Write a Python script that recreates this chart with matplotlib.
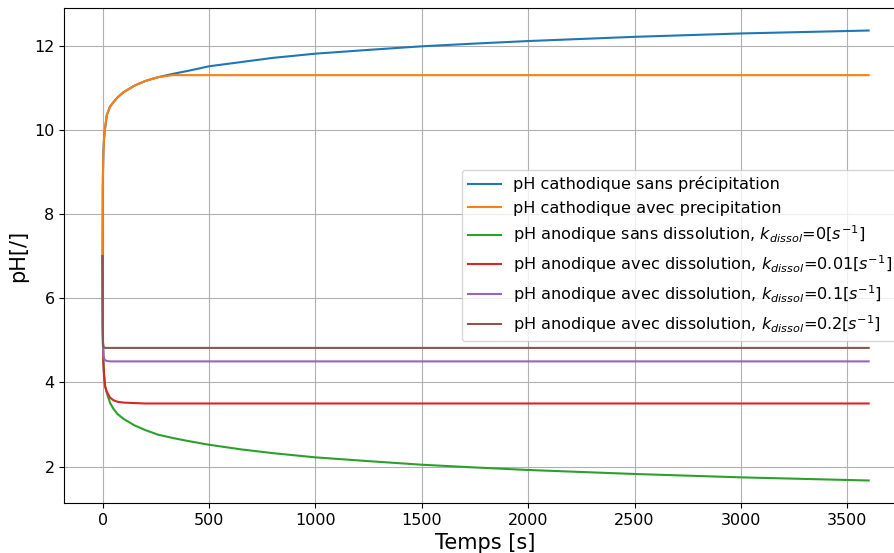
import matplotlib
matplotlib.use("Agg")
import matplotlib.pyplot as plt

# temps [s]
t = [0, 1, 2, 4, 7, 12, 20, 35, 50, 70, 100, 150, 200, 260, 330, 400, 500,
     650, 800, 1000, 1250, 1500, 1750, 2000, 2500, 3000, 3600]

# pH cathodique
ph_cath_sans = [7.0, 8.6, 9.0, 9.5, 9.8, 10.05, 10.35, 10.55, 10.65, 10.77, 10.9,
                11.05, 11.16, 11.25, 11.33, 11.4, 11.51, 11.61, 11.71, 11.81, 11.9,
                11.985, 12.05, 12.11, 12.21, 12.29, 12.36]
ph_cath_avec = [7.0, 8.6, 9.0, 9.5, 9.8, 10.05, 10.35, 10.55, 10.65, 10.77, 10.9,
                11.05, 11.16, 11.25, 11.3, 11.3, 11.3, 11.3, 11.3, 11.3, 11.3,
                11.3, 11.3, 11.3, 11.3, 11.3, 11.3]

# pH anodique
ph_anod_k0 = [7.0, 5.4, 4.9, 4.5, 4.2, 3.92, 3.75, 3.52, 3.38, 3.25, 3.13,
              2.98, 2.87, 2.76, 2.68, 2.61, 2.52, 2.41, 2.32, 2.22, 2.13,
              2.045, 1.98, 1.92, 1.825, 1.745, 1.67]
ph_anod_k001 = [7.0, 5.4, 4.9, 4.45, 4.15, 3.9, 3.78, 3.64, 3.58, 3.54, 3.52,
                3.51, 3.5, 3.5, 3.5, 3.5, 3.5, 3.5, 3.5, 3.5, 3.5,
                3.5, 3.5, 3.5, 3.5, 3.5, 3.5]
ph_anod_k01 = [7.0, 5.3, 4.85, 4.65, 4.57, 4.53, 4.51, 4.5, 4.5, 4.5, 4.5,
               4.5, 4.5, 4.5, 4.5, 4.5, 4.5, 4.5, 4.5, 4.5, 4.5,
               4.5, 4.5, 4.5, 4.5, 4.5, 4.5]
ph_anod_k02 = [7.0, 5.3, 4.95, 4.86, 4.83, 4.82, 4.82, 4.82, 4.82, 4.82, 4.82,
               4.82, 4.82, 4.82, 4.82, 4.82, 4.82, 4.82, 4.82, 4.82, 4.82,
               4.82, 4.82, 4.82, 4.82, 4.82, 4.82]

labels = [
    "pH cathodique sans précipitation",
    "pH cathodique avec precipitation",
    r"pH anodique sans dissolution, $k_{dissol}$=0[$s^{-1}$]",
    r"pH anodique avec dissolution, $k_{dissol}$=0.01[$s^{-1}$]",
    r"pH anodique avec dissolution, $k_{dissol}$=0.1[$s^{-1}$]",
    r"pH anodique avec dissolution, $k_{dissol}$=0.2[$s^{-1}$]",
]
series = [ph_cath_sans, ph_cath_avec, ph_anod_k0, ph_anod_k001, ph_anod_k01, ph_anod_k02]

fig = plt.figure(figsize=(8.95, 5.53), dpi=100)
ax = fig.add_axes([0.0718, 0.0904, 0.9416, 0.8951])

for y, lab in zip(series, labels):
    ax.plot(t, y, label=lab, linewidth=1.5)

ax.grid(True)
ax.set_xlabel("Temps [s]", fontsize=15)
ax.set_ylabel("pH[/]", fontsize=15)
ax.tick_params(labelsize=11.5)
ax.legend(loc="center right", fontsize=11.6)

fig.savefig("out.png", dpi=100)
